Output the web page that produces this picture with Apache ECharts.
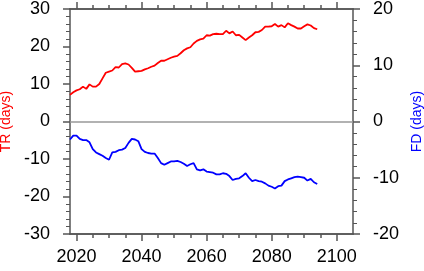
<!DOCTYPE html>
<html>
<head>
<meta charset="utf-8">
<script src="https://cdn.jsdelivr.net/npm/echarts@6/dist/echarts.min.js"></script>
<style>
  html, body { margin: 0; padding: 0; background: #fff; }
  #main { width: 424px; height: 271px; }
</style>
</head>
<body>
<div id="main"></div>
<script>
// yearly values, 2018..2094
var years = [];
for (var y = 2018; y <= 2094; y++) years.push(y);

var trValues = [
  7.1, 7.8, 8.3, 8.6, 9.3, 8.7, 9.9, 9.3, 9.3, 10.0,
  11.5, 13.0, 13.3, 13.6, 14.5, 14.4, 15.3, 15.5, 15.2, 14.3,
  13.3, 13.4, 13.5, 13.9, 14.2, 14.6, 14.9, 15.6, 16.2, 16.2,
  16.6, 17.0, 17.3, 17.5, 18.2, 19.0, 19.5, 19.8, 20.8, 21.5,
  21.9, 22.1, 23.0, 22.9, 23.3, 23.4, 23.3, 23.3, 24.2, 23.5,
  24.0, 23.0, 23.1, 22.4, 21.7, 22.4, 23.0, 23.8, 23.9, 24.4,
  25.3, 25.3, 25.4, 26.0, 25.3, 25.7, 25.1, 26.2, 25.7, 25.3,
  24.8, 24.8, 25.4, 25.9, 25.6, 24.9, 24.6
];

var fdValues = [
  -3.2, -2.5, -2.5, -3.1, -3.3, -3.3, -3.7, -4.9, -5.5, -5.8,
  -6.1, -6.5, -6.8, -5.5, -5.4, -5.1, -5.0, -4.7, -3.8, -3.1,
  -3.2, -3.5, -4.9, -5.4, -5.6, -5.7, -5.7, -6.5, -7.4, -7.7,
  -7.4, -7.1, -7.1, -7.0, -7.2, -7.5, -7.9, -7.6, -7.4, -8.5,
  -8.7, -8.5, -8.9, -9.0, -9.1, -9.4, -9.4, -9.2, -9.3, -9.7,
  -10.4, -10.2, -10.1, -9.7, -9.2, -10.0, -10.6, -10.4, -10.6, -10.7,
  -11.0, -11.4, -11.6, -11.9, -11.5, -11.4, -10.6, -10.3, -10.1, -9.9,
  -9.8, -9.9, -10.0, -10.5, -10.2, -10.8, -11.1
];

var xMajorTicks = [2020, 2040, 2060, 2080, 2100];
var xMinorTicks = [2025, 2030, 2035, 2045, 2050, 2055, 2065, 2070, 2075, 2085, 2090, 2095];

var FONT = 'Liberation Sans';
var AXIS_COLOR = '#555';

function pairs(vals) {
  return years.map(function (yr, i) { return [yr, vals[i]]; });
}

function xAxisDef(pos, ticks, len, showLabel) {
  return {
    type: 'value', position: pos, min: 2018, max: 2105,
    axisLine: { show: true, onZero: false, lineStyle: { color: AXIS_COLOR, width: 1.5 } },
    axisTick: { show: true, inside: false, length: len, customValues: ticks,
      lineStyle: { color: AXIS_COLOR, width: 1.5 } },
    axisLabel: { show: showLabel, customValues: ticks, margin: 14,
      color: '#000', fontFamily: FONT, fontSize: 18,
      formatter: function (v) { return String(v); } },
    splitLine: { show: false }
  };
}

function yAxisDef(pos, min, max, name, nameColor, gap) {
  return {
    type: 'value', position: pos, min: min, max: max, interval: 10,
    name: name, nameLocation: 'middle', nameRotate: 90, nameGap: gap,
    nameTextStyle: { color: nameColor, fontFamily: FONT, fontSize: 14 },
    axisLine: { show: true, onZero: false, lineStyle: { color: AXIS_COLOR, width: 1.5 } },
    axisTick: { show: true, inside: false, length: 7, lineStyle: { color: AXIS_COLOR, width: 1.5 } },
    minorTick: { show: true, splitNumber: 5, length: 4, lineStyle: { color: AXIS_COLOR, width: 1 } },
    axisLabel: { margin: 20, color: '#000', fontFamily: FONT, fontSize: 18 },
    splitLine: { show: false },
    minorSplitLine: { show: false }
  };
}

var chart = echarts.init(document.getElementById('main'));
chart.setOption({
  animation: false,
  grid: { left: 70, right: 71, top: 9, bottom: 37, containLabel: false, outerBoundsMode: 'none' },
  xAxis: [
    xAxisDef('bottom', xMajorTicks, 7, true),
    xAxisDef('top', xMajorTicks, 7, false),
    xAxisDef('bottom', xMinorTicks, 4, false),
    xAxisDef('top', xMinorTicks, 4, false)
  ],
  yAxis: [
    yAxisDef('left', -30, 30, 'TR (days)', '#ff0000', 54),
    yAxisDef('right', -20, 20, 'FD (days)', '#0000ff', 52)
  ],
  series: [
    {
      name: 'TR', type: 'line', xAxisIndex: 0, yAxisIndex: 0,
      data: pairs(trValues), showSymbol: false, smooth: false,
      lineStyle: { color: '#ff0000', width: 1.8 },
      markLine: {
        silent: true, symbol: 'none', label: { show: false },
        lineStyle: { color: '#999', type: 'solid', width: 1.5 },
        data: [{ yAxis: 0 }]
      }
    },
    {
      name: 'FD', type: 'line', xAxisIndex: 0, yAxisIndex: 1,
      data: pairs(fdValues), showSymbol: false, smooth: false,
      lineStyle: { color: '#0000ff', width: 1.8 }
    }
  ]
});
</script>
</body>
</html>
